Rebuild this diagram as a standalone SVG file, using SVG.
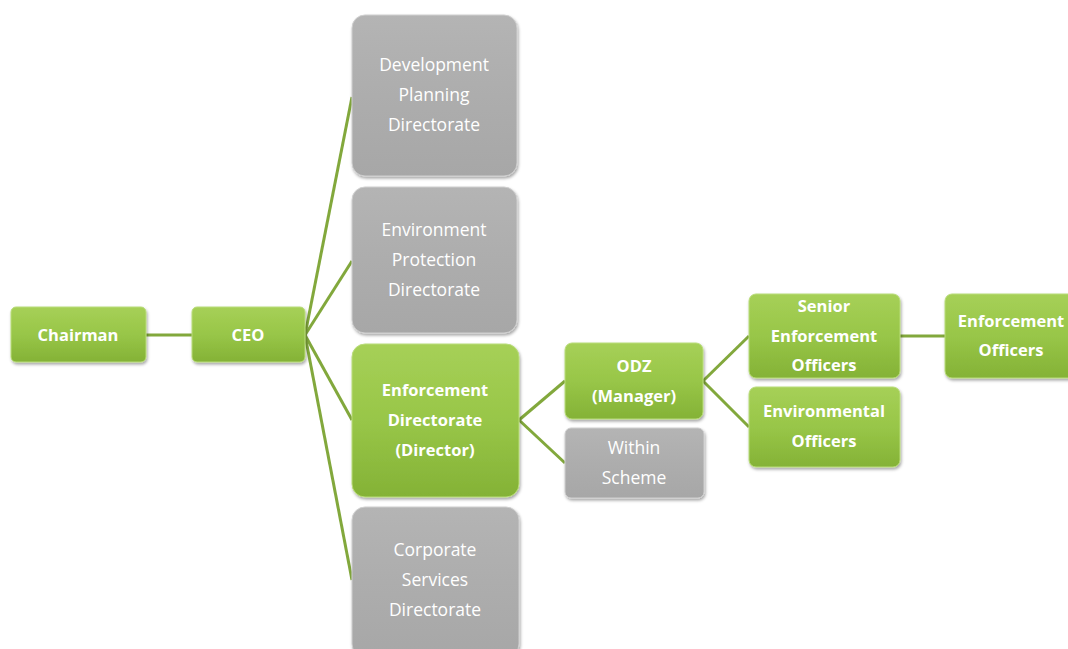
<svg xmlns="http://www.w3.org/2000/svg" width="1068" height="649" viewBox="0 0 1068 649">
<defs>
<linearGradient id="gG" x1="0" y1="0" x2="0" y2="1">
<stop offset="0" stop-color="#A6D057"/>
<stop offset="0.5" stop-color="#98C648"/>
<stop offset="1" stop-color="#84B236"/>
</linearGradient>
<linearGradient id="gY" x1="0" y1="0" x2="0" y2="1">
<stop offset="0" stop-color="#B4B4B4"/>
<stop offset="0.5" stop-color="#ADADAD"/>
<stop offset="1" stop-color="#A7A7A7"/>
</linearGradient>
<filter id="sh" x="-10%" y="-10%" width="125%" height="130%">
<feDropShadow dx="1" dy="2" stdDeviation="1.5" flood-color="#000" flood-opacity="0.35"/>
</filter>
</defs>
<style>
.g{fill:url(#gG);stroke:#B9DC7A;stroke-width:1;filter:url(#sh)}
.y{fill:url(#gY);stroke:#CFCFCF;stroke-width:1;filter:url(#sh)}
.tb{font-family:"Open Sans","Noto Sans",sans-serif;font-weight:bold;font-size:16.5px;fill:#fff;text-anchor:middle}
.tr{font-family:"Open Sans","Noto Sans",sans-serif;font-size:17.5px;fill:#fff;text-anchor:middle}
.c{stroke:#82A83C;stroke-width:3;fill:none}
</style>
<rect width="1068" height="649" fill="#fff"/>
<g id="connectors">
<line class="c" x1="146" y1="335" x2="192" y2="335"/>
<line class="c" x1="305" y1="335" x2="352" y2="97"/>
<line class="c" x1="305" y1="335" x2="352" y2="261"/>
<line class="c" x1="305" y1="335" x2="352" y2="420"/>
<line class="c" x1="305" y1="335" x2="352" y2="580"/>
<line class="c" x1="519" y1="420" x2="565" y2="381"/>
<line class="c" x1="519" y1="420" x2="565" y2="463"/>
<line class="c" x1="703" y1="381" x2="749" y2="336"/>
<line class="c" x1="703" y1="381" x2="749" y2="427"/>
<line class="c" x1="900" y1="336" x2="945" y2="336"/>
</g>
<g id="chairman">
<rect class="g" x="11" y="307" width="135" height="55" rx="5"/>
<text class="tb" x="78" y="341">Chairman</text>
</g>
<g id="ceo">
<rect class="g" x="192" y="307" width="113" height="55" rx="5"/>
<text class="tb" x="248" y="341">CEO</text>
</g>
<g id="dev-planning">
<rect class="y" x="352" y="15" width="165" height="161" rx="13"/>
<text class="tr" x="434" y="71">Development</text>
<text class="tr" x="434" y="101">Planning</text>
<text class="tr" x="434" y="131">Directorate</text>
</g>
<g id="env-protection">
<rect class="y" x="352" y="187" width="165" height="146" rx="13"/>
<text class="tr" x="434" y="236">Environment</text>
<text class="tr" x="434" y="266">Protection</text>
<text class="tr" x="434" y="296">Directorate</text>
</g>
<g id="enforcement-directorate">
<rect class="g" x="352" y="344" width="167" height="153" rx="13"/>
<text class="tb" x="435" y="396">Enforcement</text>
<text class="tb" x="435" y="426">Directorate</text>
<text class="tb" x="435" y="456">(Director)</text>
</g>
<g id="corporate-services">
<rect class="y" x="352" y="507" width="167" height="150" rx="13"/>
<text class="tr" x="435" y="556">Corporate</text>
<text class="tr" x="435" y="586">Services</text>
<text class="tr" x="435" y="616">Directorate</text>
</g>
<g id="odz">
<rect class="g" x="565" y="343" width="138" height="76" rx="7"/>
<text class="tb" x="634" y="372">ODZ</text>
<text class="tb" x="634" y="402">(Manager)</text>
</g>
<g id="within-scheme">
<rect class="y" x="565" y="428" width="139" height="70" rx="6"/>
<text class="tr" x="634" y="454">Within</text>
<text class="tr" x="634" y="484">Scheme</text>
</g>
<g id="senior-enforcement-officers">
<rect class="g" x="749" y="294" width="151" height="84" rx="7"/>
<text class="tb" x="824" y="312">Senior</text>
<text class="tb" x="824" y="342">Enforcement</text>
<text class="tb" x="824" y="371">Officers</text>
</g>
<g id="environmental-officers">
<rect class="g" x="749" y="387" width="151" height="80" rx="7"/>
<text class="tb" x="824" y="417">Environmental</text>
<text class="tb" x="824" y="447">Officers</text>
</g>
<g id="enforcement-officers">
<rect class="g" x="945" y="294" width="140" height="84" rx="7"/>
<text class="tb" x="1011" y="327">Enforcement</text>
<text class="tb" x="1011" y="356">Officers</text>
</g>
</svg>
